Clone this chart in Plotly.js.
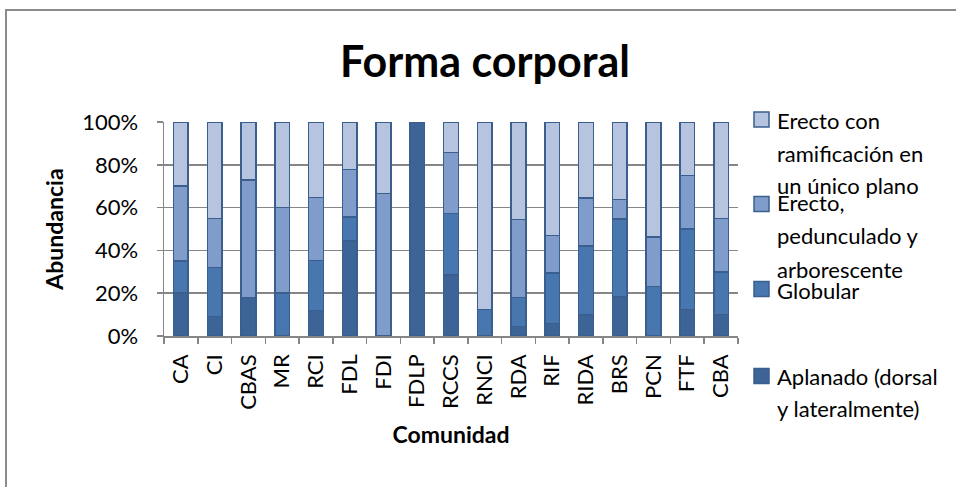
<!DOCTYPE html>
<html>
<head>
<meta charset="utf-8">
<script src="https://cdn.plot.ly/plotly-3.0.1.min.js"></script>
<style>
  html, body { margin: 0; padding: 0; background: #fff; }
  #wrap { position: relative; width: 956px; height: 487px; overflow: hidden; }
  #chart { position: absolute; left: 0; top: 0; width: 956px; height: 487px; }
  #frame { position: absolute; left: 5px; top: 9px; width: 1000px; height: 600px;
           border-left: 2px solid #8c8c8c; border-top: 2px solid #8c8c8c; pointer-events: none; }
</style>
</head>
<body>
<div id="wrap"><div id="chart"></div><div id="frame"></div></div>
<script>
const categories = ["CA","CI","CBAS","MR","RCI","FDL","FDI","FDLP","RCCS","RNCI","RDA","RIF","RIDA","BRS","PCN","FTF","CBA"];
const aplanado  = [20, 9, 18, 0, 12, 44.4, 0, 100, 28.6, 0, 4.5, 5.9, 9.7, 18.2, 0, 12.5, 10];
const globular  = [15, 23, 0, 20, 23.3, 11.1, 0, 0, 28.6, 12.5, 13.6, 23.5, 32.3, 36.4, 23.1, 37.5, 20];
const erectoPed = [35, 23, 55, 40, 29.5, 22.2, 66.7, 0, 28.6, 0, 36.4, 17.6, 22.6, 9.1, 23.1, 25, 25];
const erectoRam = [30, 45, 27, 40, 35.2, 22.3, 33.3, 0, 14.2, 87.5, 45.5, 53, 35.4, 36.3, 53.8, 25, 45];

const seriesNames = [
  "Aplanado (dorsal y lateralmente)",
  "Globular",
  "Erecto, pedunculado y arborescente",
  "Erecto con ramificación en un único plano"
];
const legendLines = [
  ["Aplanado (dorsal", "y lateralmente)"],
  ["Globular"],
  ["Erecto,", "pedunculado y", "arborescente"],
  ["Erecto con", "ramificación en", "un único plano"]
];
const colors = ["#3c6496", "#4877b0", "#7f9ccb", "#b6c4df"];
const seriesValues = [aplanado, globular, erectoPed, erectoRam];

const FONT = "Lato, 'Open Sans', sans-serif";

const traces = seriesValues.map((vals, i) => ({
  type: "bar",
  name: seriesNames[i],
  x: categories,
  y: vals,
  marker: { color: colors[i], line: { color: "#3a5f8f", width: 1.5 } },
  showlegend: false,
  hoverinfo: "x+y+name"
}));

// Legend drawn as annotations + small squares (paper coords relative to plot area)
const W = 956, H = 487;
const mL = 164, mR = 218, mT = 122, mB = 151;
const pw = W - mL - mR, ph = H - mT - mB;
function px2x(px) { return (px - mL) / pw; }
function py2y(py) { return (H - mB - py) / ph; }

// legend: square centers and text line centers (pixels)
const squareC = [376, 289, 204, 119.5];
const lineC = [
  [376, 408],
  [290],
  [202, 235, 269],
  [120, 153, 185]
];
const annotations = [];
const shapes = [];
legendLines.forEach((lines, i) => {
  const cy = squareC[i];
  shapes.push({
    type: "rect", xref: "paper", yref: "paper",
    x0: px2x(754), x1: px2x(769), y0: py2y(cy + 7.5), y1: py2y(cy - 7.5),
    fillcolor: colors[i], line: { color: "#3a5f8f", width: 1.5 }
  });
  lines.forEach((t, j) => {
    annotations.push({
      xref: "paper", yref: "paper",
      x: px2x(775), y: py2y(lineC[i][j]),
      xanchor: "left", yanchor: "middle",
      text: t, showarrow: false,
      font: { family: FONT, size: 22, color: "#000" }
    });
  });
});

const layout = {
  width: W, height: H,
  margin: { l: mL, r: mR, t: mT, b: mB, pad: 0 },
  paper_bgcolor: "rgba(0,0,0,0)",
  plot_bgcolor: "#fff",
  barmode: "stack",
  bargap: 0.565,
  title: {
    text: "<b>Forma corporal</b>",
    font: { family: FONT, size: 43, color: "#000" },
    x: 485 / W, xref: "container", xanchor: "center",
    y: 1 - 62 / H, yref: "container", yanchor: "middle"
  },
  xaxis: {
    type: "category",
    tickangle: -90,
    tickfont: { family: FONT, size: 22, color: "#000" },
    ticks: "outside", ticklen: 6, tickwidth: 1.5, tickcolor: "#868686",
    tickson: "boundaries",
    showline: true, linecolor: "#868686", linewidth: 1.5,
    showgrid: false,
    ticklabelstandoff: 8,
    title: { text: "<b>Comunidad</b>", font: { family: FONT, size: 23, color: "#000" }, standoff: 18 }
  },
  yaxis: {
    range: [0, 100],
    tickvals: [0, 20, 40, 60, 80, 100],
    ticktext: ["0%", "20%", "40%", "60%", "80%", "100%"],
    tickfont: { family: FONT, size: 22, color: "#000" },
    ticks: "outside", ticklen: 6, tickwidth: 1.5, tickcolor: "#868686",
    showline: true, linecolor: "#868686", linewidth: 1.5,
    showgrid: true, gridcolor: "#868686", gridwidth: 1.5,
    zeroline: false,
    ticklabelstandoff: 14,
    title: { text: "<b>Abundancia</b>", font: { family: FONT, size: 23, color: "#000" }, standoff: 12 }
  },
  annotations: annotations,
  shapes: shapes,
  showlegend: false
};

Plotly.newPlot("chart", traces, layout, { displayModeBar: false, staticPlot: true });
</script>
</body>
</html>
